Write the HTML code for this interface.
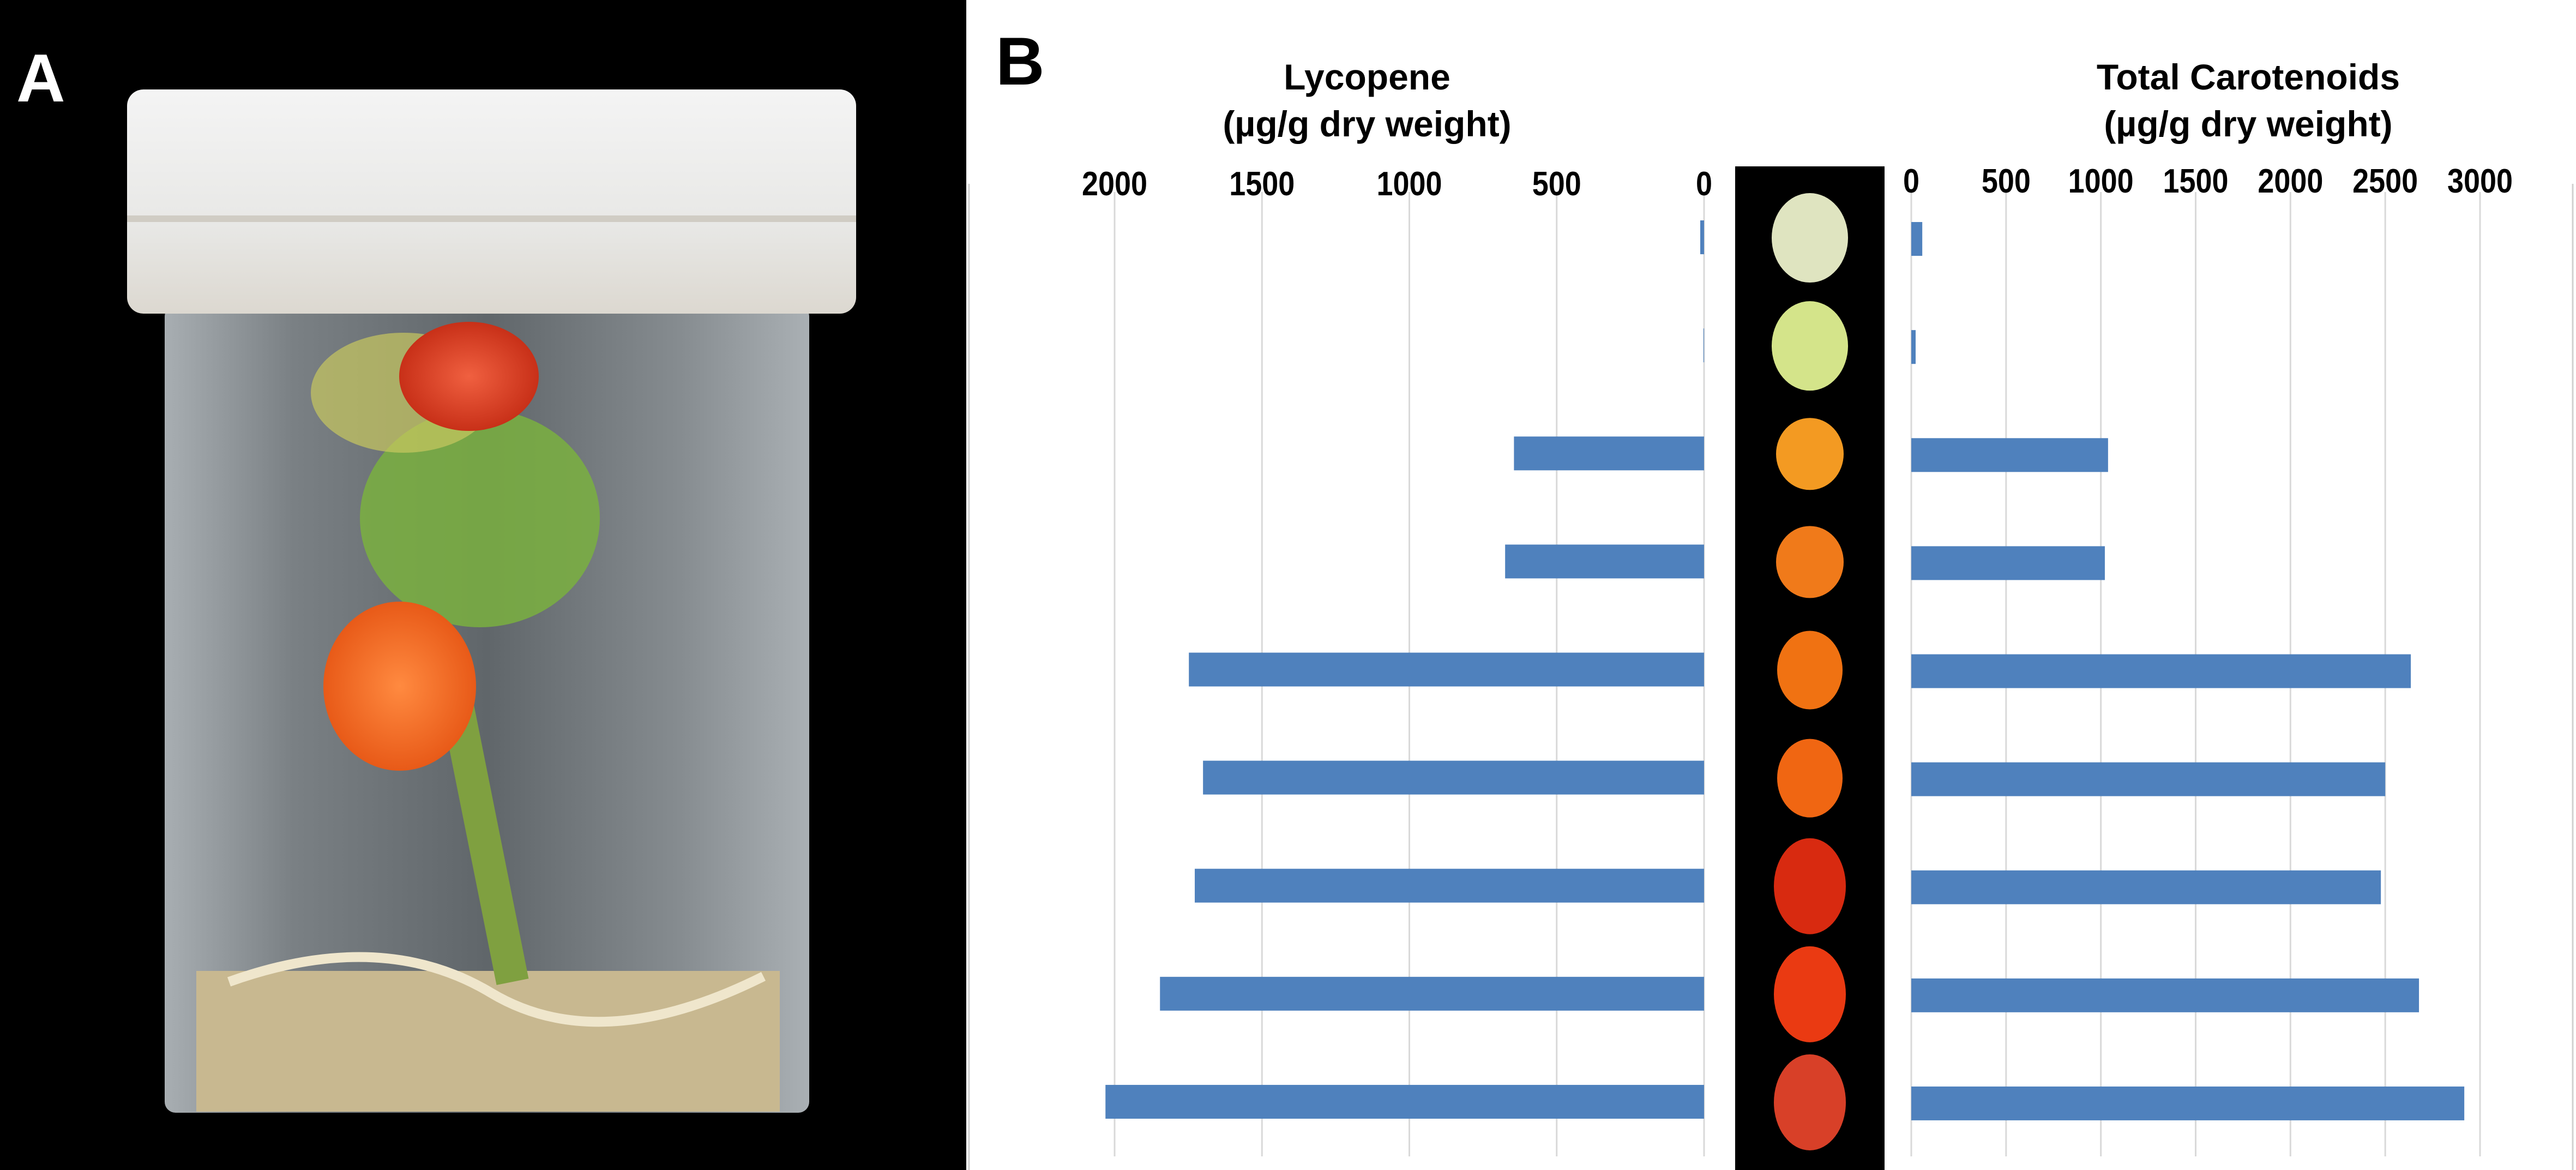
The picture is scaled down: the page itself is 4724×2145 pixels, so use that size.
<!DOCTYPE html>
<html><head><meta charset="utf-8"><style>
html,body{margin:0;padding:0;background:#fff}
svg{display:block}
text{font-family:"Liberation Sans",sans-serif;font-weight:bold}
</style></head><body>
<svg id="fig" width="4724" height="2145" viewBox="0 0 4724 2145">
<defs>
<linearGradient id="lidg" x1="0" y1="0" x2="0" y2="1"><stop offset="0" stop-color="#f4f4f4"/><stop offset="0.6" stop-color="#e8e8e6"/><stop offset="1" stop-color="#dcd8d0"/></linearGradient>
<linearGradient id="jarg" x1="0" y1="0" x2="1" y2="0"><stop offset="0" stop-color="#a8aeb2"/><stop offset="0.2" stop-color="#7a8084"/><stop offset="0.5" stop-color="#60666a"/><stop offset="0.8" stop-color="#868c90"/><stop offset="1" stop-color="#aab0b4"/></linearGradient>
<radialGradient id="redg"><stop offset="0" stop-color="#f06040"/><stop offset="1" stop-color="#c83018"/></radialGradient>
<radialGradient id="orgg"><stop offset="0" stop-color="#ff8a40"/><stop offset="1" stop-color="#e85a18"/></radialGradient>
</defs>
<g>
<rect x="0" y="0" width="1772" height="2145" fill="#000"/>
<rect x="302" y="560" width="1182" height="1480" rx="20" fill="url(#jarg)"/>
<rect x="360" y="1780" width="1070" height="258" fill="#c8b890"/>
<path d="M420 1800 Q700 1700 900 1820 T1400 1790" stroke="#efe6cc" stroke-width="18" fill="none"/>
<path d="M820 1200 Q880 1500 940 1800" stroke="#7fa040" stroke-width="60" fill="none"/>
<ellipse cx="880" cy="950" rx="220" ry="200" fill="#7ab040" opacity="0.85"/>
<ellipse cx="740" cy="720" rx="170" ry="110" fill="#c8c860" opacity="0.7"/>
<ellipse cx="860" cy="690" rx="128" ry="100" fill="url(#redg)"/>
<ellipse cx="733" cy="1258" rx="140" ry="155" fill="url(#orgg)"/>
<rect x="233" y="164" width="1337" height="411" rx="30" fill="url(#lidg)"/>
<rect x="233" y="395" width="1337" height="12" fill="#d0ccc4"/>
<text x="30" y="186" font-size="124" fill="#fff">A</text>
</g>
<line x1="1777" y1="337" x2="1777" y2="2145" stroke="#d0d0d0" stroke-width="3"/>
<line x1="4718" y1="337" x2="4718" y2="2145" stroke="#d0d0d0" stroke-width="3"/>
<text x="1826" y="155" font-size="124" fill="#000">B</text>
<text x="2507" y="164" font-size="66" text-anchor="middle">Lycopene</text>
<text x="2507" y="250" font-size="66" text-anchor="middle">(µg/g dry weight)</text>
<text x="4123" y="164" font-size="66" text-anchor="middle">Total Carotenoids</text>
<text x="4123" y="250" font-size="66" text-anchor="middle">(µg/g dry weight)</text>
<rect x="3182" y="305" width="274" height="1840" fill="#000"/>
<g id="left"></g><g id="right"></g><g id="fruits"></g>
</svg>
<script>
const categories = ["stage-1","stage-2","stage-3","stage-4","stage-5","stage-6","stage-7","stage-8","stage-9"];
const lycopene = [13, 2, 645, 675, 1748, 1700, 1728, 1846, 2031];
const carotenoids = [58, 23, 1038, 1021, 2635, 2500, 2477, 2678, 2917];
const leftTicks = [0, 500, 1000, 1500, 2000];
const rightTicks = [0, 500, 1000, 1500, 2000, 2500, 3000];
const fruitColors = ["#dfe4c0","#d4e48a","#f39a22","#f07a1a","#f07212","#f06612","#d82a10","#ea3a12","#d84028"];

const NS = "http://www.w3.org/2000/svg";
const top0 = 337, bot0 = 2120, band = (bot0 - top0) / categories.length;
const xL = v => 3125 - v * (3125 - 2044) / 2000;
const xR = v => 3505 + v * (4548 - 3505) / 3000;
const yC = i => top0 + band * (i + 0.5);
function mk(tag, attrs, parent){const e=document.createElementNS(NS,tag);for(const k in attrs)e.setAttribute(k,attrs[k]);parent.appendChild(e);return e;}
const L = document.getElementById('left'), R = document.getElementById('right'), F = document.getElementById('fruits');
leftTicks.forEach(t=>{
  const g = mk('line',{x1:xL(t),x2:xL(t),y1:top0+15,y2:bot0,stroke:'#d9d9d9','stroke-width':3},L);
  
  
  const tx = mk('text',{x:xL(t),y:358,'font-size':62,'text-anchor':'middle',textLength:String(t).length*30,lengthAdjust:'spacingAndGlyphs'},L);
  tx.textContent = t;
  
  
});
rightTicks.forEach(t=>{
  const g = mk('line',{x1:xR(t),x2:xR(t),y1:top0+15,y2:bot0,stroke:'#d9d9d9','stroke-width':3},R);
  
  
  const tx = mk('text',{x:xR(t),y:353,'font-size':62,'text-anchor':'middle',textLength:String(t).length*30,lengthAdjust:'spacingAndGlyphs'},R);
  tx.textContent = t;
  
  
});
const bh = 62;
categories.forEach((c,i)=>{
  const y = yC(i);
  const b1 = mk('rect',{x:xL(lycopene[i]),y:y-bh/2-1,width:Math.max(xL(0)-xL(lycopene[i]),1),height:bh,fill:'#4f81bd'},L);
  
  
  const b2 = mk('rect',{x:xR(0),y:y-bh/2+2,width:Math.max(xR(carotenoids[i])-xR(0),1),height:bh,fill:'#4f81bd'},R);
  
  
  const rx = i<2?70:(i<4?62:(i<6?60:66));
  const ry = i<2?82:(i<4?66:(i<6?72:88));
  const f = mk('ellipse',{cx:3319,cy:y,rx:rx,ry:ry,fill:fruitColors[i]},F);
  
  
});
</script>
</body></html>
